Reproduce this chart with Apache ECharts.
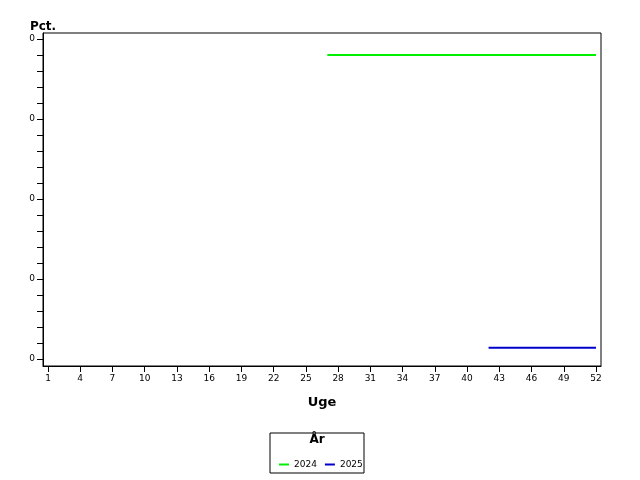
<!DOCTYPE html>
<html>
<head>
<meta charset="utf-8">
<script src="https://cdn.jsdelivr.net/npm/echarts@6/dist/echarts.min.js"></script>
<style>html,body{margin:0;padding:0;background:#fff}#chart{width:640px;height:480px}</style>
</head>
<body>
<div id="chart"></div>
<script>
// data
var years = ['2024', '2025'];
var colors = ['#00ee00', '#0000cc'];
var weeks2024 = [27,28,29,30,31,32,33,34,35,36,37,38,39,40,41,42,43,44,45,46,47,48,49,50,51,52];
var values2024 = [0.38,0.38,0.38,0.38,0.38,0.38,0.38,0.38,0.38,0.38,0.38,0.38,0.38,0.38,0.38,0.38,0.38,0.38,0.38,0.38,0.38,0.38,0.38,0.38,0.38,0.38];
var weeks2025 = [42,43,44,45,46,47,48,49,50,51,52];
var values2025 = [0.014,0.014,0.014,0.014,0.014,0.014,0.014,0.014,0.014,0.014,0.014];
var xLabels = [1,4,7,10,13,16,19,22,25,28,31,34,37,40,43,46,49,52];
var yLabels = [0,0.1,0.2,0.3,0.4];
var yTicks = [];
for (var i = 0; i <= 20; i++) yTicks.push(i * 0.02);

function pairs(xs, ys) {
    return xs.map(function (x, i) { return [x, ys[i]]; });
}

var font = 'DejaVu Sans';
var chart = echarts.init(document.getElementById('chart'));
chart.setOption({
    animation: false,
    textStyle: {fontFamily: font},
    grid: {left: 43, right: 39, top: 33, bottom: 114, show: true, borderColor: '#000', borderWidth: 1},
    xAxis: {
        type: 'value', min: 0.535, max: 52.465,
        name: 'Uge', nameLocation: 'middle', nameGap: 30,
        nameTextStyle: {fontWeight: 'bold', fontSize: 13, color: '#000'},
        axisLine: {onZero: false, lineStyle: {color: '#000'}},
        splitLine: {show: false},
        axisTick: {customValues: xLabels, length: 6, lineStyle: {color: '#000'}},
        axisLabel: {customValues: xLabels, fontSize: 9, color: '#000'}
    },
    yAxis: {
        type: 'value', min: -0.00875, max: 0.4075,
        name: 'Pct.', nameLocation: 'end', nameGap: 8,
        nameTextStyle: {fontWeight: 'bold', fontSize: 12, color: '#000', align: 'center', padding: [0, 0, -8, 0]},
        axisLine: {onZero: false, lineStyle: {color: '#000'}},
        splitLine: {show: false},
        axisTick: {customValues: yTicks, length: 6, lineStyle: {color: '#000'}},
        axisLabel: {customValues: yLabels, fontSize: 9, color: '#000',
            formatter: function (v) { return String(Math.round(v)); }}
    },
    legend: {
        data: years, left: 274, top: 455, itemWidth: 10, itemHeight: 2, itemGap: 8,
        icon: 'rect', textStyle: {fontSize: 9, color: '#000'}
    },
    graphic: [
        {type: 'rect', shape: {x: 270, y: 433, width: 94, height: 40}, style: {fill: 'none', stroke: '#000', lineWidth: 1}},
        {type: 'text', x: 317, y: 434, style: {text: 'År', font: 'bold 12px ' + font, fill: '#000', align: 'center'}}
    ],
    series: [
        {name: years[0], type: 'line', data: pairs(weeks2024, values2024), showSymbol: false,
            lineStyle: {color: colors[0], width: 2}, itemStyle: {color: colors[0]}},
        {name: years[1], type: 'line', data: pairs(weeks2025, values2025), showSymbol: false,
            lineStyle: {color: colors[1], width: 2}, itemStyle: {color: colors[1]}}
    ]
});
</script>
</body>
</html>
